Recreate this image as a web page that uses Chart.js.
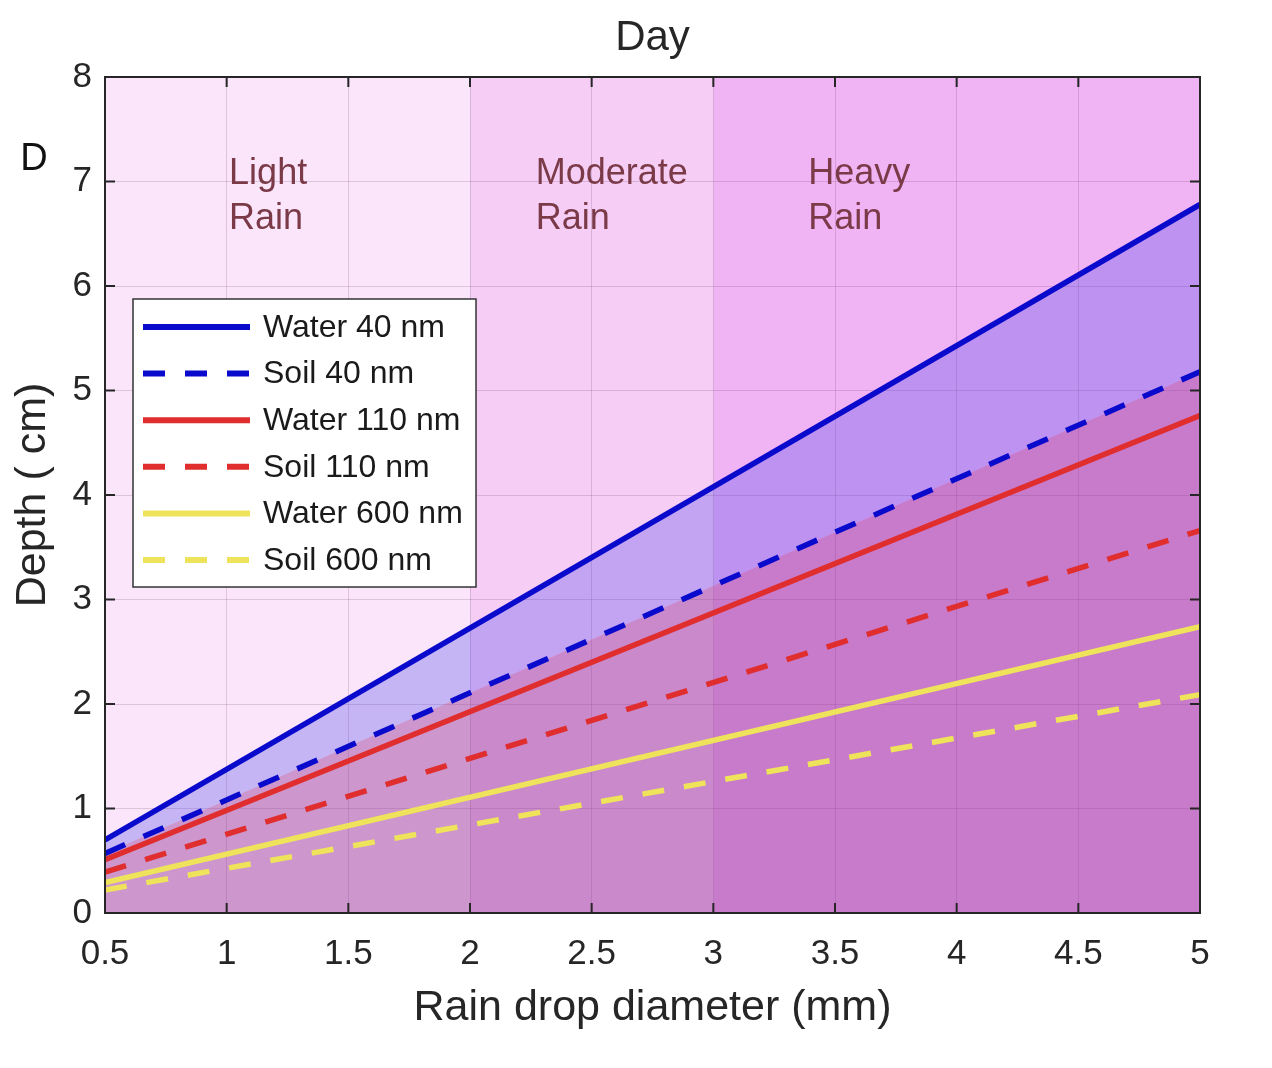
<!DOCTYPE html>
<html>
<head>
<meta charset="utf-8">
<script src="https://cdn.jsdelivr.net/npm/chart.js@4.4.1/dist/chart.umd.min.js"></script>
<style>
  html, body { margin: 0; padding: 0; background: #fff; }
</style>
</head>
<body>
<canvas id="depthChart" width="1272" height="1068"></canvas>
<script>
// rain drop diameter (mm) at the two ends of each line
const diameters = [0.5, 5];

// penetration depth (cm)
const water40 = [0.70, 6.78];
const soil40 = [0.57, 5.18];
const water110 = [0.51, 4.76];
const soil110 = [0.39, 3.66];
const water600 = [0.29, 2.74];
const soil600 = [0.22, 2.09];

const seriesLabels = ['Water 40 nm', 'Soil 40 nm', 'Water 110 nm', 'Soil 110 nm', 'Water 600 nm', 'Soil 600 nm'];

// rain intensity bands along the x axis
const bandStarts = [0.5, 2, 3];
const bandEnds = [2, 3, 5];
const bandNames = [['Light', 'Rain'], ['Moderate', 'Rain'], ['Heavy', 'Rain']];

const FONT = "'Liberation Sans', Arial, Helvetica, sans-serif";
const TEXT = '#262626';
const GRID = 'rgba(70, 30, 70, 0.16)';
const BLUE = '#0a0acd';
const RED = '#e02d2d';
const YELLOW = '#eee35a';
const DASH = [22, 20];
const bandColors = ['#fae5fa', '#f5cdf5', '#f0b3f4'];
const bandLabelX = [1.01, 2.27, 3.39];

Chart.defaults.font.family = FONT;
Chart.defaults.color = TEXT;

const pts = vals => diameters.map((x, i) => ({ x: x, y: vals[i] }));

function line(label, vals, color, dashed, extra) {
    return Object.assign({
        label: label,
        data: pts(vals),
        borderColor: color,
        borderWidth: 5.5,
        borderDash: dashed ? DASH : [],
        borderCapStyle: 'butt',
        pointRadius: 0,
        tension: 0,
        fill: false
    }, extra || {});
}

const datasets = [
    line(seriesLabels[0], water40, BLUE, false, { fill: '+1', backgroundColor: 'rgba(76, 71, 236, 0.30)' }),
    line(seriesLabels[1], soil40, BLUE, true, { fill: 'origin', backgroundColor: 'rgba(151, 55, 151, 0.45)' }),
    line(seriesLabels[2], water110, RED, false),
    line(seriesLabels[3], soil110, RED, true),
    line(seriesLabels[4], water600, YELLOW, false),
    line(seriesLabels[5], soil600, YELLOW, true)
];

// shaded rain bands behind everything
const bandPlugin = {
    id: 'bands',
    beforeDraw(chart) {
        const { ctx, chartArea: a, scales: { x } } = chart;
        ctx.save();
        bandStarts.forEach((s, i) => {
            const x0 = x.getPixelForValue(s);
            const x1 = x.getPixelForValue(bandEnds[i]);
            ctx.fillStyle = bandColors[i];
            ctx.fillRect(x0, a.top, x1 - x0, a.bottom - a.top);
        });
        ctx.restore();
    }
};

// box, inner ticks, band text, title, panel letter and legend
const framePlugin = {
    id: 'frame',
    afterDraw(chart) {
        const { ctx, chartArea: a, scales: { x, y } } = chart;
        ctx.save();

        ctx.font = '36px ' + FONT;
        ctx.fillStyle = '#7a3a48';
        ctx.textAlign = 'left';
        ctx.textBaseline = 'middle';
        bandNames.forEach((lines, i) => {
            const px = x.getPixelForValue(bandLabelX[i]);
            ctx.fillText(lines[0], px, 174);
            ctx.fillText(lines[1], px, 219);
        });

        ctx.strokeStyle = TEXT;
        ctx.lineWidth = 2;
        ctx.strokeRect(a.left, a.top, a.right - a.left, a.bottom - a.top);
        ctx.beginPath();
        x.ticks.forEach(t => {
            const px = x.getPixelForValue(t.value);
            ctx.moveTo(px, a.bottom); ctx.lineTo(px, a.bottom - 10);
            ctx.moveTo(px, a.top); ctx.lineTo(px, a.top + 10);
        });
        y.ticks.forEach(t => {
            const py = y.getPixelForValue(t.value);
            ctx.moveTo(a.left, py); ctx.lineTo(a.left + 10, py);
            ctx.moveTo(a.right, py); ctx.lineTo(a.right - 10, py);
        });
        ctx.stroke();

        ctx.fillStyle = TEXT;
        ctx.textAlign = 'center';
        ctx.font = '42px ' + FONT;
        ctx.fillText('Day', (a.left + a.right) / 2, 38);
        ctx.font = '38px ' + FONT;
        ctx.fillStyle = '#111';
        ctx.fillText('D', 34, 160);

        // legend
        const bx = 133, by = 299, bw = 343, bh = 288;
        ctx.fillStyle = '#fff';
        ctx.fillRect(bx, by, bw, bh);
        ctx.strokeStyle = '#333';
        ctx.lineWidth = 1.5;
        ctx.strokeRect(bx, by, bw, bh);
        ctx.font = '32px ' + FONT;
        ctx.textAlign = 'left';
        chart.data.datasets.forEach((ds, i) => {
            const ry = by + 28 + i * 46.6;
            ctx.strokeStyle = ds.borderColor;
            ctx.lineWidth = 6;
            ctx.lineCap = 'butt';
            ctx.setLineDash(ds.borderDash);
            ctx.beginPath();
            ctx.moveTo(bx + 10, ry);
            ctx.lineTo(bx + 117, ry);
            ctx.stroke();
            ctx.setLineDash([]);
            ctx.fillStyle = '#1a1a1a';
            ctx.fillText(ds.label, bx + 130, ry + 1);
        });
        ctx.restore();
    }
};

new Chart(document.getElementById('depthChart'), {
    type: 'line',
    data: { datasets: datasets },
    options: {
        responsive: false,
        animation: false,
        layout: { padding: { top: 77, right: 72, left: 0, bottom: 0 } },
        scales: {
            x: {
                type: 'linear',
                min: 0.5,
                max: 5,
                ticks: {
                    stepSize: 0.5,
                    padding: 20,
                    color: TEXT,
                    font: { size: 35 },
                    maxRotation: 0,
                    callback: v => String(v)
                },
                grid: { color: GRID, drawTicks: false },
                border: { display: false },
                title: {
                    display: true,
                    text: 'Rain drop diameter (mm)',
                    color: TEXT,
                    font: { size: 43 },
                    padding: { top: 0, bottom: 34 }
                },
                afterFit: s => { s.height = 155; }
            },
            y: {
                min: 0,
                max: 8,
                ticks: { stepSize: 1, padding: 13, color: TEXT, font: { size: 35 }, callback: v => String(v) },
                grid: { color: GRID, drawTicks: false },
                border: { display: false },
                title: {
                    display: true,
                    text: 'Depth ( cm)',
                    color: TEXT,
                    font: { size: 43 },
                    padding: { top: 7, bottom: 0 }
                },
                afterFit: s => { s.width = 105; }
            }
        },
        plugins: {
            legend: { display: false },
            tooltip: { enabled: false },
            filler: { drawTime: 'beforeDatasetsDraw' }
        }
    },
    plugins: [bandPlugin, framePlugin]
});
</script>
</body>
</html>
